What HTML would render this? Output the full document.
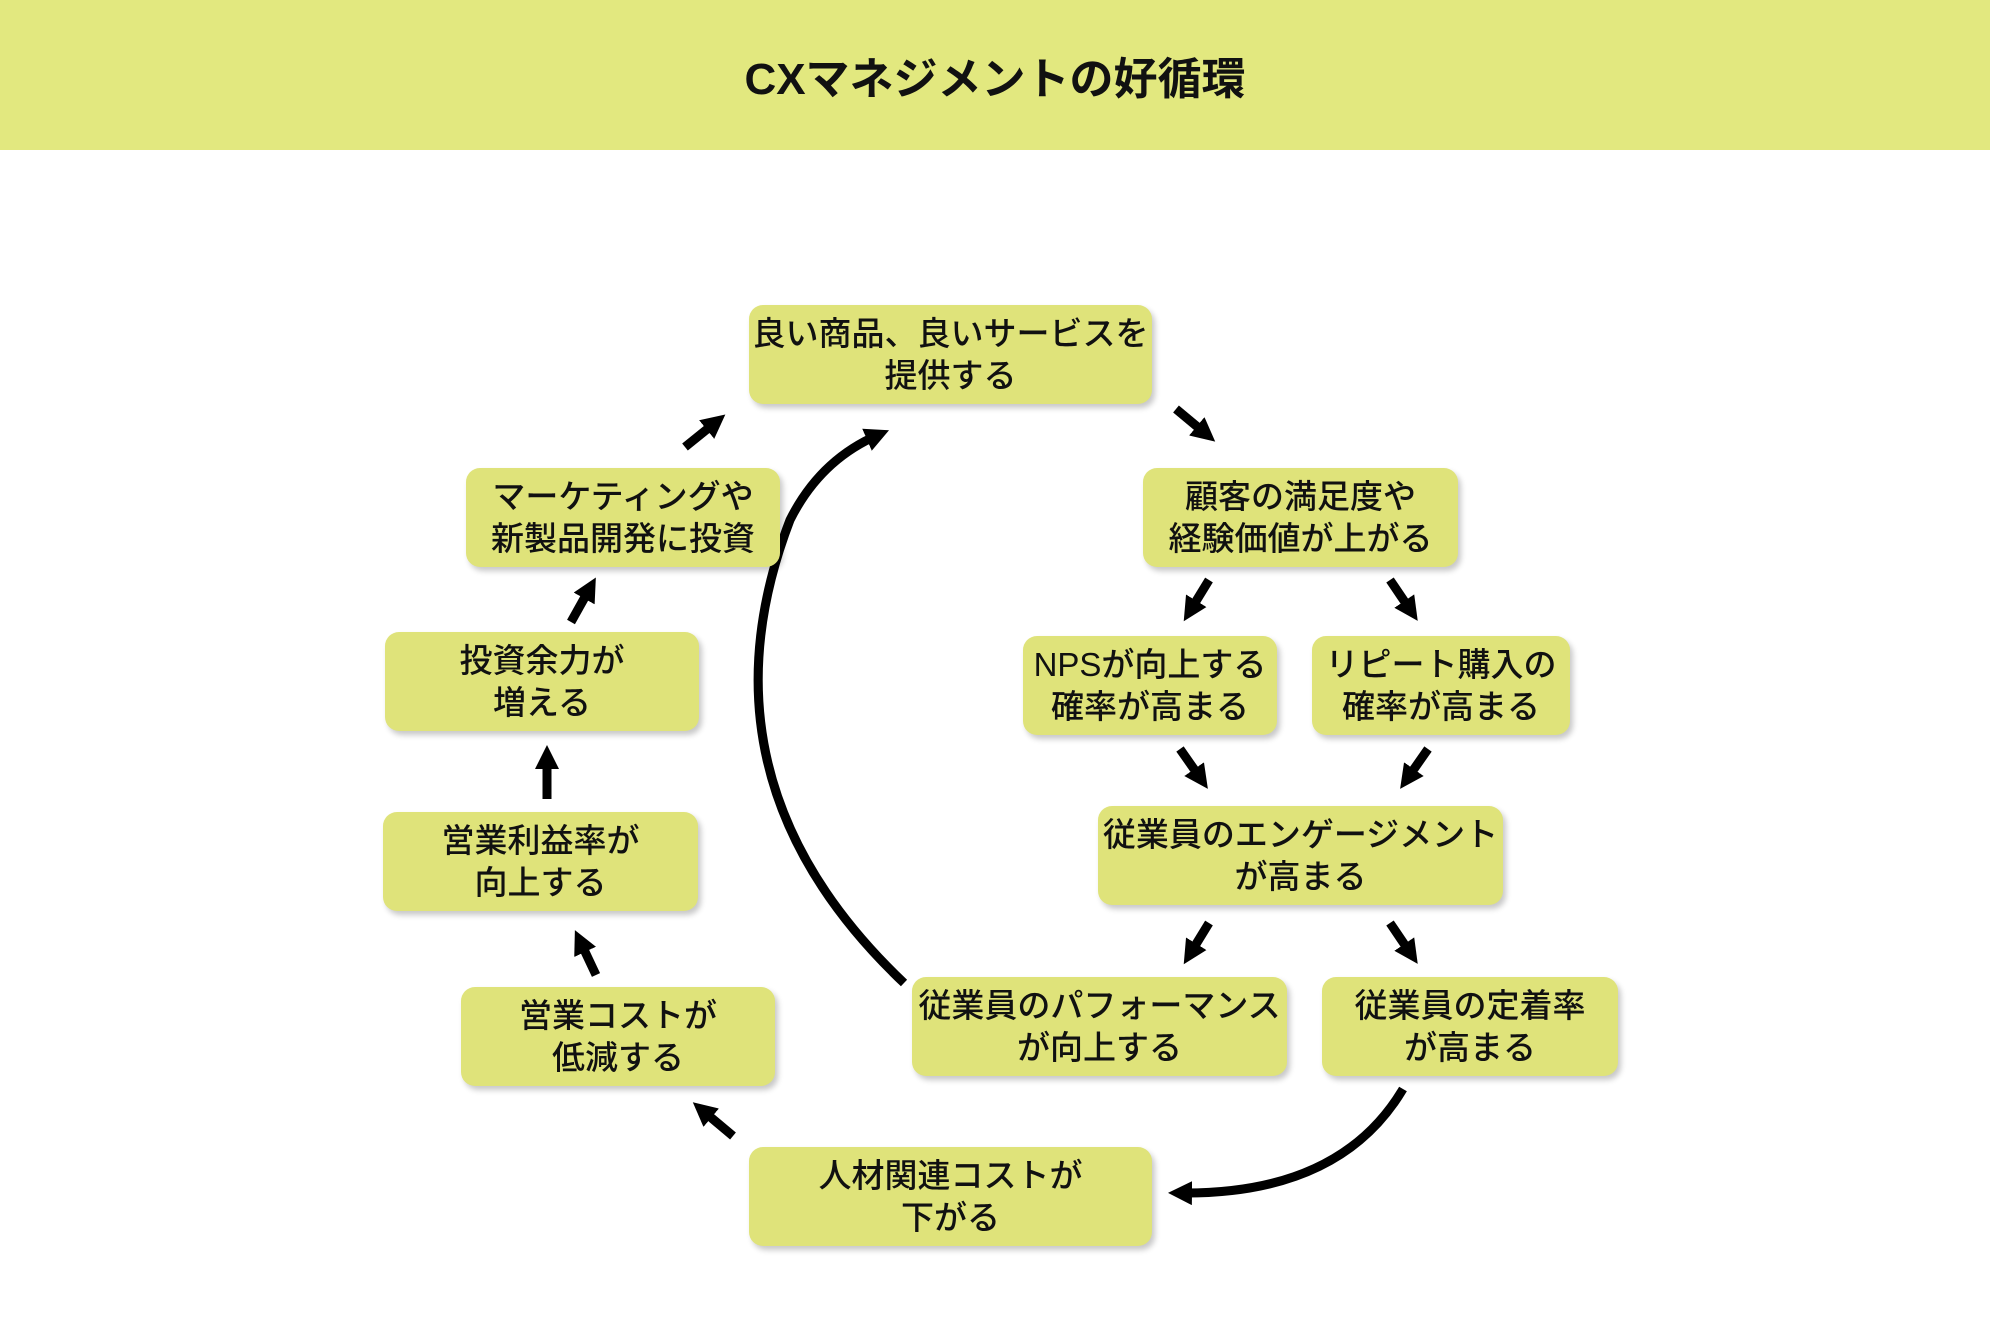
<!DOCTYPE html>
<html><head><meta charset="utf-8"><style>
body{margin:0;width:1990px;height:1326px;background:#fff;position:relative;overflow:hidden;font-family:"Liberation Sans","Noto Sans CJK JP",sans-serif;}
.hdr{position:absolute;left:0;top:0;width:1990px;height:150px;background:#e2e87f;display:flex;align-items:center;justify-content:center;font-size:44px;font-weight:bold;color:#111;}
.b{position:absolute;background:#dfe37a;border-radius:14px;box-shadow:3px 4px 6px rgba(0,0,0,0.22);display:flex;align-items:center;justify-content:center;text-align:center;font-size:33px;line-height:42px;color:#111;font-weight:500;}
svg{position:absolute;left:0;top:0;}
</style></head><body>
<div class="hdr">CXマネジメントの好循環</div>
<svg width="1990" height="1326">
<defs><marker id="a" markerUnits="userSpaceOnUse" markerWidth="30" markerHeight="30" refX="12" refY="12" orient="auto"><path d="M0,0 L24,12 L0,24 Z" fill="#000"/></marker></defs>
<g stroke="#000" stroke-width="9" fill="none" marker-end="url(#a)">
<line x1="1176" y1="409" x2="1206" y2="434"/>
<line x1="1209" y1="580" x2="1190" y2="611"/>
<line x1="1390" y1="580" x2="1411" y2="611"/>
<line x1="1180" y1="749" x2="1201" y2="779"/>
<line x1="1428" y1="749" x2="1407" y2="779"/>
<line x1="1209" y1="923" x2="1190" y2="954"/>
<line x1="1390" y1="923" x2="1411" y2="954"/>
<line x1="733" y1="1136" x2="702" y2="1110"/>
<line x1="596" y1="975" x2="580" y2="941"/>
<line x1="547" y1="799" x2="547" y2="757"/>
<line x1="571" y1="622" x2="590" y2="588"/>
<line x1="685" y1="447" x2="716" y2="422"/>
<path d="M1403,1089 Q1340,1195 1180,1193"/>
<path d="M904,983 Q690,780 790,520 Q820,460 878,435"/>
</g>
</svg>
<div class="b" style="left:749px;top:305px;width:403px;height:99px">良い商品、良いサービスを<br>提供する</div>
<div class="b" style="left:1143px;top:468px;width:315px;height:99px">顧客の満足度や<br>経験価値が上がる</div>
<div class="b" style="left:1023px;top:636px;width:254px;height:99px">NPSが向上する<br>確率が高まる</div>
<div class="b" style="left:1312px;top:636px;width:258px;height:99px">リピート購入の<br>確率が高まる</div>
<div class="b" style="left:1098px;top:806px;width:405px;height:99px">従業員のエンゲージメント<br>が高まる</div>
<div class="b" style="left:912px;top:977px;width:375px;height:99px">従業員のパフォーマンス<br>が向上する</div>
<div class="b" style="left:1322px;top:977px;width:296px;height:99px">従業員の定着率<br>が高まる</div>
<div class="b" style="left:749px;top:1147px;width:403px;height:99px">人材関連コストが<br>下がる</div>
<div class="b" style="left:461px;top:987px;width:314px;height:99px">営業コストが<br>低減する</div>
<div class="b" style="left:383px;top:812px;width:315px;height:99px">営業利益率が<br>向上する</div>
<div class="b" style="left:385px;top:632px;width:314px;height:99px">投資余力が<br>増える</div>
<div class="b" style="left:466px;top:468px;width:314px;height:99px">マーケティングや<br>新製品開発に投資</div>
</body></html>
